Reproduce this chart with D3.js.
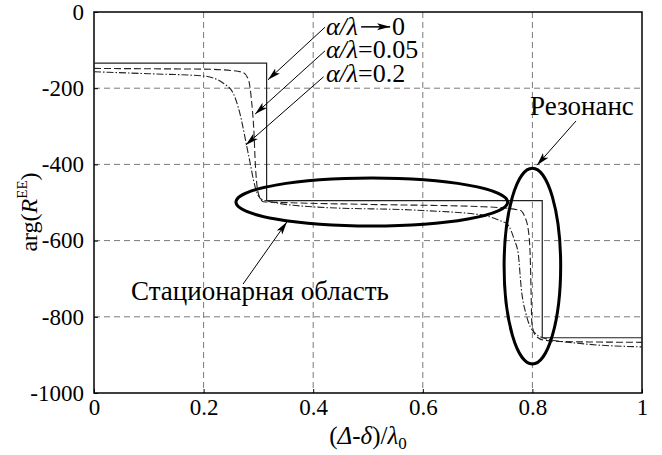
<!DOCTYPE html>
<html>
<head>
<meta charset="utf-8">
<script src="https://cdn.jsdelivr.net/npm/d3@7"></script>
</head>
<body style="margin:0;background:#fff">
<svg width="662" height="455" font-family="Liberation Serif"></svg>
<script>
// ---- data ----
const xTicks = [0, 0.2, 0.4, 0.6, 0.8, 1];
const yTicks = [0, -200, -400, -600, -800, -1000];

// alpha/lambda -> 0 : ideal step
const solidX = [0, 0.315, 0.315, 0.818, 0.818, 1];
const solidY = [-134, -134, -495, -495, -855, -855];

// alpha/lambda = 0.05
const dashX = [0, 0.1, 0.2, 0.254, 0.272, 0.282, 0.286, 0.289, 0.292, 0.294, 0.297, 0.302, 0.309, 0.345,
  0.5, 0.71, 0.777, 0.786, 0.7925, 0.796, 0.7975, 0.799, 0.805, 0.82, 0.856, 1];
const dashY = [-148, -149, -150, -154, -159, -178, -213, -257, -318, -388, -450, -485, -498, -500,
  -505, -511, -520, -537, -572, -640, -730, -817, -848, -861, -865, -867];

// alpha/lambda = 0.2
const dotX = [0, 0.1, 0.2, 0.236, 0.254, 0.263, 0.269, 0.274, 0.279, 0.285, 0.291, 0.299, 0.309, 0.406,
  0.6, 0.709, 0.745, 0.753, 0.762, 0.767, 0.774, 0.780, 0.788, 0.796, 0.805, 0.826, 0.887, 1];
const dotY = [-157, -162, -168, -187, -213, -249, -283, -318, -354, -397, -441, -480, -494, -512,
  -521, -533, -550, -555, -577, -598, -633, -730, -791, -826, -843, -858, -870, -879];

const legendTexts = ["=0.05", "=0.2"];
const regionNames = ["Стационарная область", "Резонанс"];

// ---- layout ----
const FONT = "Liberation Serif";
const svg = d3.select("svg");
const x = d3.scaleLinear().domain([0, 1]).range([94, 642]);
const y = d3.scaleLinear().domain([-1000, 0]).range([393, 12]);

const defs = svg.append("defs");
defs.append("marker")
  .attr("id", "arrow")
  .attr("markerUnits", "userSpaceOnUse")
  .attr("markerWidth", 14).attr("markerHeight", 8)
  .attr("refX", 13).attr("refY", 4)
  .attr("orient", "auto")
  .append("path")
  .attr("d", "M0,0.5 L13,4 L0,7.5 L3,4 Z")
  .attr("fill", "#000");

// grid
const grid = svg.append("g").attr("stroke", "#7a7a7a").attr("stroke-dasharray", "6,4").attr("stroke-width", 1);
grid.selectAll("line.v").data(xTicks.slice(1, -1)).enter().append("line")
  .attr("x1", d => x(d)).attr("x2", d => x(d)).attr("y1", y(0)).attr("y2", y(-1000));
grid.selectAll("line.h").data(yTicks.slice(1, -1)).enter().append("line")
  .attr("x1", x(0)).attr("x2", x(1)).attr("y1", d => y(d)).attr("y2", d => y(d));

// axes
const xAxis = svg.append("g").attr("transform", "translate(0," + y(-1000) + ")")
  .call(d3.axisBottom(x).tickValues(xTicks).tickFormat(d3.format("")).tickSize(-4).tickPadding(6));
const yAxis = svg.append("g").attr("transform", "translate(" + x(0) + ",0)")
  .call(d3.axisLeft(y).tickValues(yTicks).tickFormat(d3.format("")).tickSize(-4).tickPadding(10));
[xAxis, yAxis].forEach(a => {
  a.attr("font-family", FONT).attr("font-size", 23);
  a.select(".domain").remove();
  a.selectAll("text").attr("font-family", FONT).attr("font-size", 23).attr("fill", "#000");
  a.selectAll("line").attr("stroke", "#000");
});
yAxis.selectAll("text").text(d => String(d).replace("−", "-"));

svg.append("rect")
  .attr("x", x(0)).attr("y", y(0))
  .attr("width", x(1) - x(0)).attr("height", y(-1000) - y(0))
  .attr("fill", "none").attr("stroke", "#000").attr("stroke-width", 1.5);

// curves
const toPts = (xs, ys) => xs.map((v, i) => [v, ys[i]]);
const lineLin = d3.line().x(d => x(d[0])).y(d => y(d[1]));
const lineSmooth = d3.line().x(d => x(d[0])).y(d => y(d[1])).curve(d3.curveMonotoneX);

svg.append("path").attr("d", lineLin(toPts(solidX, solidY)))
  .attr("fill", "none").attr("stroke", "#222").attr("stroke-width", 1.2);
svg.append("path").attr("d", lineSmooth(toPts(dashX, dashY)))
  .attr("fill", "none").attr("stroke", "#222").attr("stroke-width", 1.1)
  .attr("stroke-dasharray", "7,3");
svg.append("path").attr("d", lineSmooth(toPts(dotX, dotY)))
  .attr("fill", "none").attr("stroke", "#222").attr("stroke-width", 1.1)
  .attr("stroke-dasharray", "7,2,1.5,2");

// ellipses (data units)
const ellipses = [
  { cx: 0.507, cy: -499, rx: 0.248, ry: 63 },
  { cx: 0.8, cy: -667, rx: 0.0516, ry: 257 }
];
svg.selectAll("ellipse").data(ellipses).enter().append("ellipse")
  .attr("cx", d => x(d.cx)).attr("cy", d => y(d.cy))
  .attr("rx", d => x(d.rx) - x(0)).attr("ry", d => y(-d.ry) - y(0))
  .attr("fill", "none").attr("stroke", "#000").attr("stroke-width", 3);

// leader arrows (data units)
const leaders = [
  { x1: 0.4215, y1: -40, x2: 0.3175, y2: -178 },
  { x1: 0.4215, y1: -102, x2: 0.294, y2: -268 },
  { x1: 0.419, y1: -170, x2: 0.277, y2: -349 },
  { x1: 0.272, y1: -714, x2: 0.352, y2: -551 },
  { x1: 0.8796, y1: -286, x2: 0.8084, y2: -402 }
];
svg.selectAll("line.leader").data(leaders).enter().append("line")
  .attr("class", "leader")
  .attr("x1", d => x(d.x1)).attr("y1", d => y(d.y1))
  .attr("x2", d => x(d.x2)).attr("y2", d => y(d.y2))
  .attr("stroke", "#000").attr("stroke-width", 1)
  .attr("marker-end", "url(#arrow)");

function txt(xp, yp, size) {
  return svg.append("text").attr("x", xp).attr("y", yp)
    .attr("font-family", FONT).attr("font-size", size).attr("fill", "#000");
}

// legend labels
const lx = x(0.4215) + 1;
const l1 = txt(lx, y(-60), 26);
l1.append("tspan").attr("font-style", "italic").text("α/λ");
const l1w = l1.node().getComputedTextLength();
svg.append("line")
  .attr("x1", lx + l1w + 3).attr("x2", lx + l1w + 32)
  .attr("y1", y(-60) - 8).attr("y2", y(-60) - 8)
  .attr("stroke", "#000").attr("stroke-width", 1.5)
  .attr("marker-end", "url(#arrow)");
txt(lx + l1w + 34, y(-60), 26).text("0");

[-121, -184].forEach((v, i) => {
  const t = txt(lx, y(v), 26);
  t.append("tspan").attr("font-style", "italic").text("α/λ");
  t.append("tspan").text(legendTexts[i]);
});

txt(x(0.0675), y(-756), 27).text(regionNames[0]);
txt(x(0.7956), y(-270), 27).text(regionNames[1]);

// axis titles
const xt = txt(368, 444, 25).attr("text-anchor", "middle");
xt.append("tspan").text("(");
xt.append("tspan").attr("font-style", "italic").text("Δ");
xt.append("tspan").text("-");
xt.append("tspan").attr("font-style", "italic").text("δ");
xt.append("tspan").text(")/");
xt.append("tspan").attr("font-style", "italic").text("λ");
xt.append("tspan").attr("font-size", 17).attr("dy", 5).text("0");

const yt = txt(0, 0, 24).attr("transform", "translate(37,212) rotate(-90)")
  .attr("text-anchor", "middle");
yt.append("tspan").text("arg(");
yt.append("tspan").attr("font-style", "italic").text("R");
yt.append("tspan").attr("font-size", 15).attr("dy", -10).text("EE");
yt.append("tspan").attr("dy", 10).text(")");
</script>
</body>
</html>
